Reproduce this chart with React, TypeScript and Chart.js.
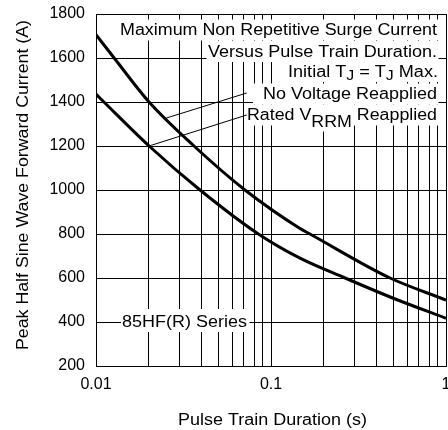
import React, { useEffect, useRef } from 'react';
import { Chart, registerables } from 'chart.js';

Chart.register(...registerables);

const FONT = '"Liberation Sans", Arial, Helvetica, sans-serif';

// ---- data ----
const xGridValues = [
  0.01, 0.02, 0.03, 0.04, 0.05, 0.06, 0.07, 0.08, 0.09,
  0.1, 0.2, 0.3, 0.4, 0.5, 0.6, 0.7, 0.8, 0.9, 1,
];
const xLabelValues = [0.01, 0.1, 1];
const xLabelTexts = ['0.01', '0.1', '1'];
const yMin = 200;
const yMax = 1800;
const yStep = 200;

// No Voltage Reapplied (upper curve)
const noVoltageX = [0.01, 0.0127, 0.0201, 0.0363, 0.071, 0.1465, 0.167, 0.479, 1];
const noVoltageY = [1706, 1600, 1400, 1200, 1000, 825, 800, 600, 500];

// Rated VRRM Reapplied (lower curve)
const ratedX = [0.01, 0.0111, 0.0201, 0.0393, 0.0847, 0.1465, 0.265, 0.5, 1];
const ratedY = [1436, 1400, 1200, 1000, 800, 690, 600, 508, 417];

// leader lines (from curve to label)
const leaderNoVoltageX = [0.025, 0.0727];
const leaderNoVoltageY = [1326, 1441];
const leaderRatedX = [0.0201, 0.0727];
const leaderRatedY = [1200, 1341];

// annotation texts
type Run = { t: string; sub?: boolean };
const noteTexts: Run[][] = [
  [{ t: 'Maximum Non Repetitive Surge Current' }],
  [{ t: 'Versus Pulse Train Duration.' }],
  [{ t: 'Initial T' }, { t: 'J', sub: true }, { t: ' = T' }, { t: 'J', sub: true }, { t: ' Max.' }],
  [{ t: 'No Voltage Reapplied' }],
  [{ t: 'Rated V' }, { t: 'RRM', sub: true }, { t: ' Reapplied' }],
];
const seriesLabel = '85HF(R) Series';
const xTitle = 'Pulse Train Duration (s)';
const yTitle = 'Peak Half Sine Wave Forward Current (A)';

// layout of annotation lines (pixel offsets)
const noteLayout = [
  { left: 120, width: 317, baseline: 35, boxLeft: 118.5, subShift: 0, subSize: 15 },
  { left: 208, width: 229, baseline: 56.5, boxLeft: 206.5, subShift: 0, subSize: 15 },
  { left: 288, width: 150, baseline: 76.5, boxLeft: 280, subShift: 3.5, subSize: 14 },
  { left: 263, width: 174, baseline: 99, boxLeft: 253, subShift: 0, subSize: 15 },
  { left: 247, width: 190, baseline: 120, boxLeft: 245.5, subShift: 6.5, subSize: 16 },
];

function drawRuns(
  ctx: CanvasRenderingContext2D,
  runs: Run[],
  left: number,
  baseline: number,
  targetW: number,
  size: number,
  subSize: number,
  subShift: number,
  box: null | { left: number; right: number; top: number; bottom: number }
) {
  const widths: number[] = [];
  let W = 0;
  for (const r of runs) {
    ctx.font = `${r.sub ? subSize : size}px ${FONT}`;
    const w = ctx.measureText(r.t).width;
    widths.push(w);
    W += w;
  }
  const sx = targetW / W;
  if (box) {
    ctx.fillStyle = '#fff';
    ctx.fillRect(box.left, box.top, box.right - box.left, box.bottom - box.top);
    let cx = left;
    runs.forEach((r, i) => {
      if (r.sub) {
        ctx.fillRect(cx - 1, baseline + subShift - 14, widths[i] * sx + 2, 19);
      }
      cx += widths[i] * sx;
    });
  }
  ctx.save();
  ctx.translate(left, baseline);
  ctx.scale(sx, 1);
  ctx.fillStyle = '#000';
  ctx.textBaseline = 'alphabetic';
  ctx.textAlign = 'left';
  let x = 0;
  runs.forEach((r, i) => {
    ctx.font = `${r.sub ? subSize : size}px ${FONT}`;
    ctx.fillText(r.t, x, r.sub ? subShift : 0);
    x += widths[i];
  });
  ctx.restore();
}

const notesPlugin = {
  id: 'notes',
  beforeDatasetsDraw(chart: any) {
    const ctx: CanvasRenderingContext2D = chart.ctx;
    ctx.save();
    noteTexts.forEach((runs, i) => {
      const L = noteLayout[i];
      drawRuns(ctx, runs, L.left, L.baseline, L.width, 16, L.subSize, L.subShift, {
        left: L.boxLeft,
        right: L.left + L.width + 1.5,
        top: L.baseline - 15.5,
        bottom: L.baseline + 5.5,
      });
    });
    drawRuns(ctx, [{ t: seriesLabel }], 122, 326.5, 125, 16, 15, 0, {
      left: 121,
      right: 249.5,
      top: 309,
      bottom: 332,
    });
    ctx.restore();
  },
  afterDraw(chart: any) {
    const ctx: CanvasRenderingContext2D = chart.ctx;
    ctx.save();
    drawRuns(ctx, [{ t: xTitle }], 272.5 - 189 / 2, 425, 189, 16, 15, 0, null);
    ctx.save();
    ctx.translate(27.5, 185);
    ctx.rotate(-Math.PI / 2);
    drawRuns(ctx, [{ t: yTitle }], -165, 0, 330, 16, 15, 0, null);
    ctx.restore();
    ctx.restore();
  },
};

function pts(xs: number[], ys: number[]) {
  return xs.map((x, i) => ({ x, y: ys[i] }));
}

export default function App() {
  const ref = useRef<HTMLCanvasElement | null>(null);
  useEffect(() => {
    if (!ref.current) return;
    const chart = new Chart(ref.current, {
      type: 'line',
      data: {
        datasets: [
          {
            label: 'No Voltage Reapplied',
            data: pts(noVoltageX, noVoltageY),
            borderColor: '#000',
            borderWidth: 3,
            pointRadius: 0,
            cubicInterpolationMode: 'monotone',
            fill: false,
          },
          {
            label: 'Rated VRRM Reapplied',
            data: pts(ratedX, ratedY),
            borderColor: '#000',
            borderWidth: 3,
            pointRadius: 0,
            cubicInterpolationMode: 'monotone',
            fill: false,
          },
          {
            label: 'leader1',
            data: pts(leaderNoVoltageX, leaderNoVoltageY),
            borderColor: '#000',
            borderWidth: 1,
            pointRadius: 0,
            tension: 0,
            fill: false,
          },
          {
            label: 'leader2',
            data: pts(leaderRatedX, leaderRatedY),
            borderColor: '#000',
            borderWidth: 1,
            pointRadius: 0,
            tension: 0,
            fill: false,
          },
        ],
      } as any,
      options: {
        responsive: false,
        animation: false,
        devicePixelRatio: 1,
        layout: { padding: { top: 14, right: 2, left: 0, bottom: 0 } },
        plugins: {
          legend: { display: false },
          tooltip: { enabled: false },
          title: { display: false },
        },
        scales: {
          x: {
            type: 'logarithmic',
            min: 0.01,
            max: 1,
            afterBuildTicks: (s: any) => {
              s.ticks = xGridValues.map((v) => ({ value: v }));
            },
            afterFit: (s: any) => {
              s.height = 64;
              s.paddingLeft = 0;
              s.paddingRight = 0;
            },
            ticks: {
              autoSkip: false,
              maxRotation: 0,
              minRotation: 0,
              padding: 9,
              color: '#000',
              font: { family: FONT, size: 16 },
              callback: (v: any) => {
                const n = Number(v);
                const i = xLabelValues.findIndex((t) => Math.abs(t - n) / t < 1e-6);
                return i >= 0 ? xLabelTexts[i] : '';
              },
            },
            grid: { color: '#000', lineWidth: 1, drawTicks: false },
            border: { color: '#000', width: 1 },
          },
          y: {
            min: yMin,
            max: yMax,
            afterFit: (s: any) => {
              s.width = 96;
              s.paddingTop = 0;
              s.paddingBottom = 0;
            },
            ticks: {
              stepSize: yStep,
              padding: 11,
              color: '#000',
              font: { family: FONT, size: 16 },
              callback: (v: any) => String(v),
            },
            grid: { color: '#000', lineWidth: 1, drawTicks: false },
            border: { color: '#000', width: 1 },
          },
        },
      } as any,
      plugins: [notesPlugin],
    });
    return () => chart.destroy();
  }, []);
  return (
    <div style={{ position: 'fixed', left: 0, top: 0, width: 448, height: 430, background: '#fff' }}>
      <canvas ref={ref} width={448} height={430} style={{ display: 'block', width: 448, height: 430 }} />
    </div>
  );
}
